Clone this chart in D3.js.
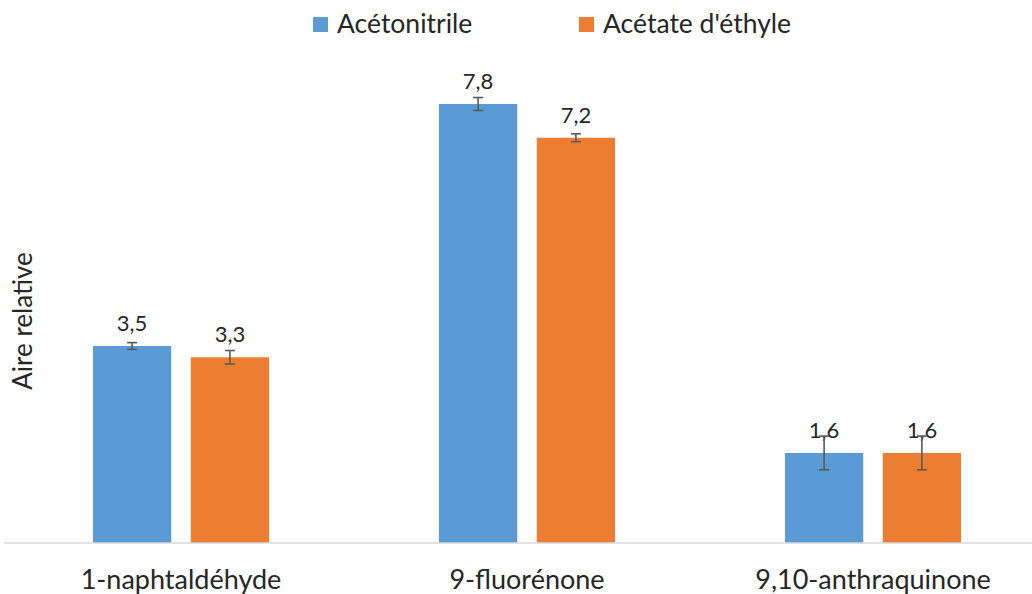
<!DOCTYPE html>
<html><head><meta charset="utf-8">
<script src="https://cdn.jsdelivr.net/npm/d3@7"></script>
<style>body{margin:0;background:#fff}svg{display:block}text{font-family:Lato,"Open Sans",sans-serif;fill:#262626}</style>
</head><body><svg id="c" width="1032" height="594"></svg>
<script>
const categories = ["1-naphtaldéhyde", "9-fluorénone", "9,10-anthraquinone"];
const seriesNames = ["Acétonitrile", "Acétate d'éthyle"];
const acetonitrile = [3.5, 7.8, 1.6];
const acetateEthyle = [3.3, 7.2, 1.6];
const errAcetonitrile = [0.06, 0.115, 0.3];
const errAcetateEthyle = [0.12, 0.07, 0.3];
const valueLabelsAcn = ["3,5", "7,8", "1,6"];
const valueLabelsAce = ["3,3", "7,2", "1,6"];
const colors = ["#5B9BD5", "#ED7D31"];

const svg = d3.select("#c");
const x = d3.scaleBand().domain(categories).range([8, 1046]).paddingInner(0).paddingOuter(0);
const y = d3.scaleLinear().domain([0, 7.8]).range([543, 104]);
const sub = d3.scaleBand().domain(seriesNames).range([-88, 88]).paddingInner(0.2);

const series = [
  {name: seriesNames[0], vals: acetonitrile, err: errAcetonitrile, labels: valueLabelsAcn, color: colors[0]},
  {name: seriesNames[1], vals: acetateEthyle, err: errAcetateEthyle, labels: valueLabelsAce, color: colors[1]}
];

const rows = [];
series.forEach(s => categories.forEach((c, i) => rows.push({s, c, v: s.vals[i], e: s.err[i], l: s.labels[i]})));
const cx = d => x(d.c) + x.bandwidth()/2 + sub(d.s.name);

svg.selectAll("rect.bar").data(rows).join("rect").attr("class","bar")
  .attr("x", cx).attr("width", sub.bandwidth())
  .attr("y", d => y(d.v)).attr("height", d => y(0) - y(d.v))
  .attr("fill", d => d.s.color);

// axis line
const xAxis = d3.axisBottom(x).tickSize(0).tickPadding(27);
const gx = svg.append("g").attr("transform", `translate(0,${y(0)})`).call(xAxis);
gx.select(".domain").attr("stroke", "#D9D9D9").attr("stroke-width", 1.5).attr("d", "M4,0H1032");
gx.selectAll("text").attr("font-size", 27).attr("fill", "#262626").attr("font-family", "Lato");

// value labels
svg.selectAll("text.vl").data(rows).join("text").attr("class","vl")
  .attr("x", d => cx(d) + sub.bandwidth()/2).attr("y", d => y(d.v) - 15)
  .attr("text-anchor","middle").attr("font-size", 22).text(d => d.l);

// error bars
const eg = svg.selectAll("g.err").data(rows).join("g").attr("class","err")
  .attr("stroke", "#595959").attr("stroke-width", 1.6);
eg.append("line").attr("x1", d => cx(d) + sub.bandwidth()/2).attr("x2", d => cx(d) + sub.bandwidth()/2)
  .attr("y1", d => y(d.v + d.e)).attr("y2", d => y(d.v - d.e));
[1, -1].forEach(k => eg.append("line")
  .attr("x1", d => cx(d) + sub.bandwidth()/2 - 5).attr("x2", d => cx(d) + sub.bandwidth()/2 + 5)
  .attr("y1", d => y(d.v + k*d.e)).attr("y2", d => y(d.v + k*d.e)));

// y title
svg.append("text").attr("transform", "translate(32,321) rotate(-90)").attr("text-anchor","middle")
  .attr("font-size", 26).text("Aire relative");

// legend
const lg = svg.append("g");
const legX = [313, 579];
series.forEach((s, i) => {
  lg.append("rect").attr("x", legX[i]).attr("y", 17).attr("width", 15).attr("height", 15).attr("fill", s.color);
  lg.append("text").attr("x", legX[i] + 24).attr("y", 33).attr("font-size", 26.5).text(s.name);
});
</script></body></html>
